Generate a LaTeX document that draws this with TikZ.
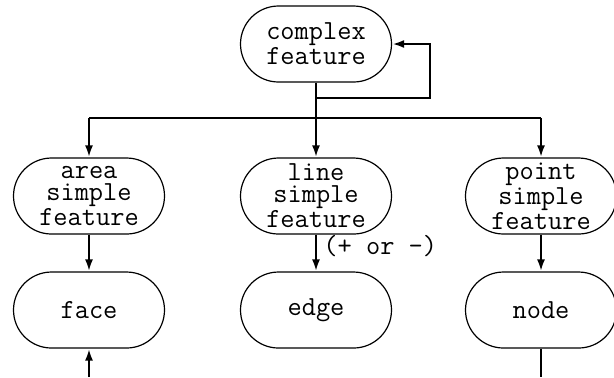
\documentclass[tikz,border=0pt]{standalone}
\usepackage{tikz}
\usetikzlibrary{arrows.meta,positioning,shapes.misc}
\tikzset{
  feat/.style={draw, rounded rectangle, align=center, minimum width=75.5pt,
               minimum height=38pt, inner sep=0pt, semithick,
               font=\fontsize{13.8}{11}\selectfont\ttfamily},
  link/.style={-{Latex[length=6pt,width=4pt]}, line width=1.4pt},
  wire/.style={line width=1.4pt},
}
\begin{document}
\begin{tikzpicture}[x=0.5pt, y=-0.5pt]
  \useasboundingbox (0,0) rectangle (614,377);
  % top level
  \node[feat] (cplx) at (316,44) {complex\\feature};
  % simple features
  \node[feat] (area) at (89,196) {area\\simple\\feature};
  \node[feat] (line) at (316,196) {line\\simple\\feature};
  \node[feat] (point) at (541,196) {point\\simple\\feature};
  % primitives
  \node[feat] (face) at (89,310) {face};
  \node[feat] (edge) at (316,310) {edge};
  \node[feat] (nd) at (541,310) {node};

  % bus below complex feature
  \coordinate (bus) at (316,118);
  \coordinate (busL) at (89,118);
  \coordinate (busR) at (541,118);
  \draw[wire] (cplx.south) -- (bus);
  \draw[wire] (busL) -- (busR);
  \draw[link] (busL) -- (area.north);
  \draw[link] (bus) -- (line.north);
  \draw[link] (busR) -- (point.north);

  % self loop
  \coordinate (loop) at (316,98);
  \draw[link] (loop) -- (430,98) |- (cplx.east);

  % simple -> primitive
  \draw[link] (area.south) -- (face.north);
  \draw[link] (line.south) -- node[right, pos=0.3, inner sep=3pt,
    font=\fontsize{13.8}{11}\selectfont\ttfamily]{(+ or -)} (edge.north);
  \draw[link] (point.south) -- (nd.north);

  % loose ends at the bottom
  \coordinate (faceIn) at (89,377);
  \coordinate (ndOut) at (541,377);
  \draw[link] (faceIn) -- (face.south);
  \draw[wire] (nd.south) -- (ndOut);
\end{tikzpicture}
\end{document}
